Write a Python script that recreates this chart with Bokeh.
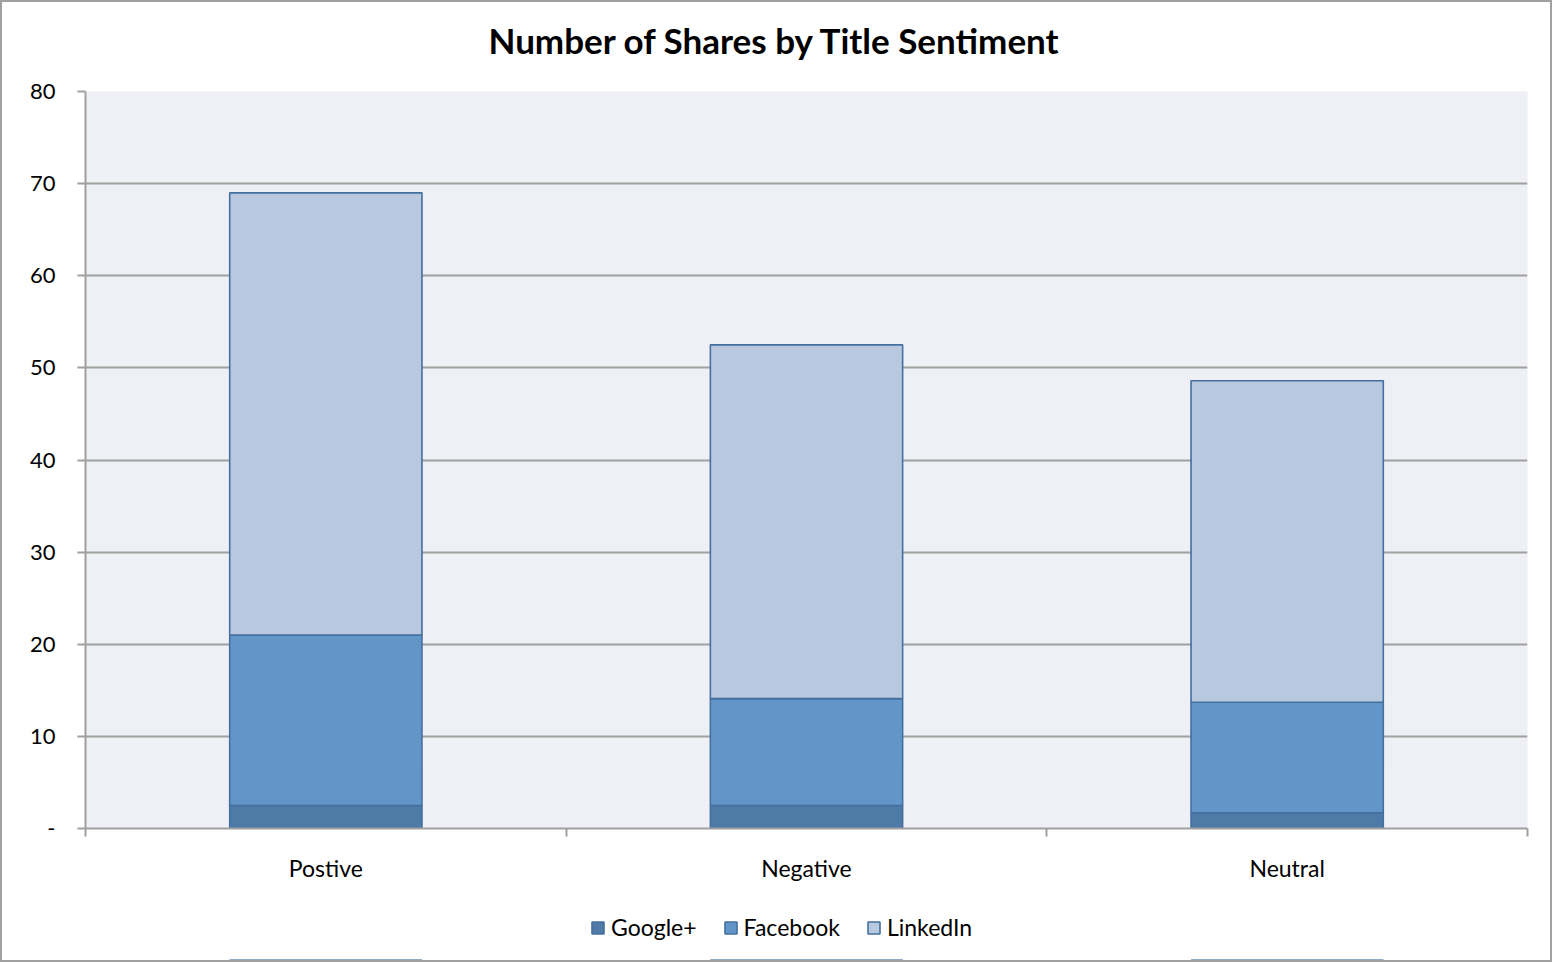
from bokeh.plotting import figure
from bokeh.models import FixedTicker, Legend, LegendItem, Range1d, Label, ColumnDataSource
from bokeh.layouts import column
from bokeh.embed import file_html
from bokeh.resources import INLINE

title_text = "Number of Shares by Title Sentiment"
categories = ["Postive", "Negative", "Neutral"]
series = ["Google+", "Facebook", "LinkedIn"]
google = [2.5, 2.5, 1.7]
facebook = [18.5, 11.6, 12.0]
linkedin = [48.0, 38.4, 34.9]
colors = ["#4E7AA7", "#6396C8", "#B8C8DF"]
y_ticks = [0, 10, 20, 30, 40, 50, 60, 70, 80]

FONT = "Lato"
GRAY = "#A0A0A0"
EDGE = "#44709F"
W = 1548
N = len(categories)


def strip(height, x_range, y_range):
    f = figure(width=W, height=height, output_backend="svg", toolbar_location=None,
               x_range=x_range, y_range=y_range,
               x_axis_location=None, y_axis_location=None,
               min_border_left=0, min_border_right=0, min_border_top=0, min_border_bottom=0)
    f.outline_line_color = None
    f.background_fill_color = "white"
    f.border_fill_color = "white"
    f.grid.grid_line_color = None
    return f


# title strip (its frame is aligned with the chart's frame by the column)
pt = strip(75, Range1d(0, 1), Range1d(0, 1))
pt.add_layout(Label(x=403, y=38, x_units="screen", y_units="screen", text=title_text,
                    text_align="left", text_baseline="alphabetic",
                    text_font=FONT, text_font_size="35px", text_font_style="bold",
                    text_color="#000000"))

# main chart
xs = [i + 0.5 for i in range(N)]
source = ColumnDataSource({"x": xs, "Google+": google, "Facebook": facebook, "LinkedIn": linkedin})

p = figure(width=W, height=820, output_backend="svg", toolbar_location=None,
           x_range=Range1d(0, N), y_range=Range1d(0, 80),
           min_border_left=83, min_border_right=23, min_border_bottom=69, min_border_top=14)
p.background_fill_color = "#EFF0F5"
p.border_fill_color = "white"
p.outline_line_color = None

rs = p.vbar_stack(series, x="x", width=0.4, source=source, color=colors,
                  line_color=EDGE, line_width=1.6)

p.yaxis.ticker = FixedTicker(ticks=y_ticks)
p.yaxis.major_label_overrides = {0: "-"}
p.yaxis.major_label_text_font = FONT
p.yaxis.major_label_text_font_size = "22px"
p.yaxis.major_label_text_color = "#000000"
p.yaxis.axis_line_color = GRAY
p.yaxis.axis_line_width = 2
p.yaxis.major_tick_line_color = GRAY
p.yaxis.major_tick_line_width = 2
p.yaxis.major_tick_out = 8
p.yaxis.major_tick_in = 0
p.yaxis.minor_tick_line_color = None
p.yaxis.major_label_standoff = 22

p.xaxis.ticker = FixedTicker(ticks=xs, minor_ticks=list(range(N + 1)))
p.xaxis.major_label_overrides = {x: c for x, c in zip(xs, categories)}
p.xaxis.major_label_text_font = FONT
p.xaxis.major_label_text_font_size = "23px"
p.xaxis.major_label_text_color = "#000000"
p.xaxis.axis_line_color = GRAY
p.xaxis.axis_line_width = 2
p.xaxis.major_tick_line_color = None
p.xaxis.major_tick_out = 0
p.xaxis.major_tick_in = 0
p.xaxis.minor_tick_line_color = GRAY
p.xaxis.minor_tick_line_width = 2
p.xaxis.minor_tick_out = 8
p.xaxis.minor_tick_in = 0
p.xaxis.major_label_standoff = 17

p.xgrid.grid_line_color = None
p.ygrid.grid_line_color = GRAY
p.ygrid.grid_line_width = 2

# legend strip: swatches come from the same stacked bars, kept below its view
pl = strip(63, Range1d(0, N), Range1d(200, 280))
rl = pl.vbar_stack(series, x="x", width=0.4, source=source, color=colors,
                   line_color=EDGE, line_width=1.6)
legend = Legend(items=[LegendItem(label=s, renderers=[r]) for s, r in zip(series, rl)],
                orientation="horizontal", location=(505, 19),
                label_text_font=FONT, label_text_font_size="23px", label_text_color="#000000",
                glyph_width=15, glyph_height=15, spacing=26, label_standoff=6,
                border_line_color=None, background_fill_alpha=0, padding=4, margin=0)
pl.add_layout(legend, "center")

page = column(pt, p, pl, spacing=0, styles={"border": "2px solid #A0A0A0"})

open("out.html", "w").write(file_html(page, INLINE))
